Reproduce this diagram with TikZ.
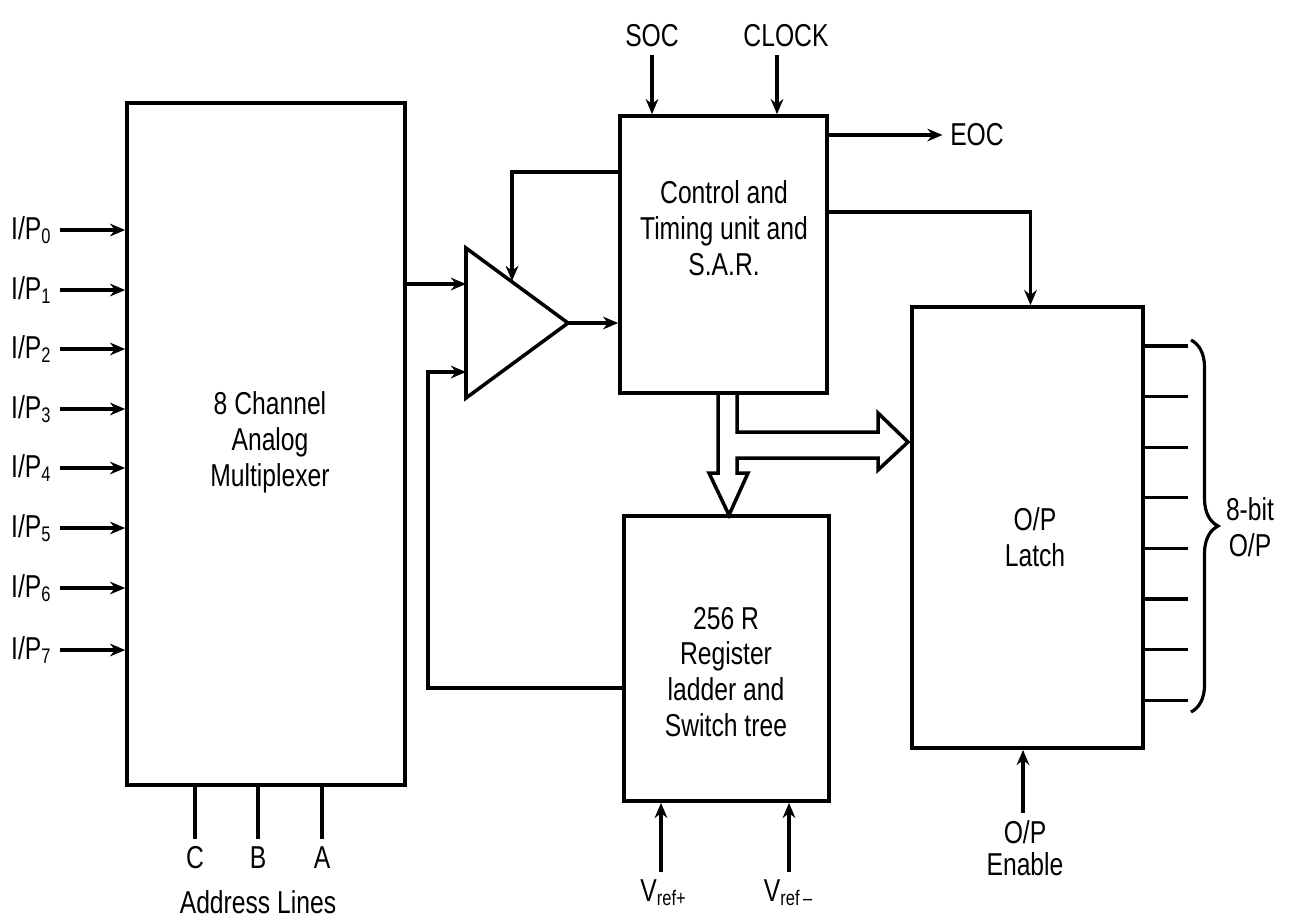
\documentclass[tikz,border=0pt]{standalone}
\usepackage{fontspec}
\setmainfont{Liberation Sans}[FakeStretch=0.78]
\usetikzlibrary{positioning, arrows.meta, decorations.pathreplacing}
\newcommand{\diagfont}{\fontsize{9}{10.2}\selectfont}

\begin{document}
\begin{tikzpicture}[
    x=0.01cm, y=-0.01cm,
    block/.style={draw, line width=1pt, inner sep=0pt},
    txt/.style={align=center, font=\diagfont, inner sep=2pt},
    sig/.style={-{Stealth[length=4.3pt, width=3.6pt]}, line width=0.9pt},
    wire/.style={line width=0.9pt},
    bus/.style={line width=1pt, line join=miter}
]
    \useasboundingbox (0,0) rectangle (1291,923);

    % Blocks
    \node[block, minimum width=2.78cm, minimum height=6.82cm] (mux) at (266,444) {};
    \node[block, minimum width=2.07cm, minimum height=2.77cm] (ctl) at (723.5,254.5) {};
    \node[block, minimum width=2.05cm, minimum height=2.85cm] (lad) at (726.5,658.5) {};
    \node[block, minimum width=2.31cm, minimum height=4.41cm] (latch) at (1027.5,527.5) {};

    \node[txt] (muxtxt) at (270,442) {8 Channel\\Analog\\Multiplexer};
    \node[txt] (ctltxt) at (724,228) {Control and\\Timing unit and\\S.A.R.};
    \node[txt] (ladtxt) at (726,672) {256 R\\Register\\ladder and\\Switch tree};
    \node[txt] (latchtxt) at (1035,537) {O/P\\Latch};

    % Comparator
    \coordinate (amptop) at (466,248);
    \coordinate (ampout) at (568,323);
    \coordinate (ampbot) at (466,398);
    \coordinate (ampin1) at (466,284);
    \coordinate (ampin2) at (466,372);
    \coordinate (ampfb) at (512,281);
    \draw[line width=1pt] (amptop) -- (ampout) -- (ampbot) -- cycle;

    % Analog inputs
    \foreach \i/\yy in {0/230,1/290,2/349,3/409,4/468,5/528,6/588,7/650} {
        \node[txt, anchor=east] (ip\i) at (60,\yy) {I/P\textsubscript{\i}};
        \draw[sig] (ip\i.east) -- (mux.west |- ip\i.east);
    }

    % Address lines
    \node[txt] (adc) at (195,858) {C};
    \node[txt] (adb) at (258,858) {B};
    \node[txt] (ada) at (322,858) {A};
    \foreach \a in {adc,adb,ada}
        \draw[wire] (\a.north) -- (\a.north |- mux.south);
    \node[txt] (addr) at (258,902) {Address Lines};

    % Comparator connections
    \draw[sig] (mux.east |- ampin1) -- (ampin1);
    \draw[sig] (ampout) -- (ctl.west |- ampout);
    \coordinate (fbtop) at (512,172);
    \draw[sig] (ctl.west |- fbtop) -| (ampfb);
    \coordinate (ladfb) at (428,688);
    \draw[sig] (lad.west |- ladfb) -- (ladfb) |- (ampin2);

    % Control inputs and outputs
    \node[txt] (soc) at (652,36) {SOC};
    \node[txt] (clk) at (786,36) {CLOCK};
    \node[txt] (eoc) at (977,135) {EOC};
    \draw[sig] (soc.south) -- (soc.south |- ctl.north);
    \draw[sig] ([xshift=-0.09cm]clk.south) -- ([xshift=-0.09cm]clk.south |- ctl.north);
    \draw[sig] (ctl.east |- eoc.west) -- (eoc.west);
    \coordinate (ctlout) at (827,212);
    \draw[sig] (ctl.east |- ctlout) -| ([xshift=0.03cm]latch.north);

    % Data bus (hollow arrows)
    \draw[bus] (718,393) -- (718,473) -- (709,473) -- (729,515) -- (748,473)
        -- (737,473) -- (737,458) -- (878,458) -- (878,470) -- (908,442)
        -- (878,413) -- (878,432) -- (737,432) -- (737,393);

    % Reference voltages
    \node[txt] (vp) at (664,893) {V\textsubscript{ref+}};
    \node[txt] (vm) at (789,893) {V\textsubscript{ref\,--}};
    \draw[sig] ([xshift=-0.03cm]vp.north) -- ([xshift=-0.03cm]vp.north |- lad.south);
    \draw[sig] (vm.north) -- (vm.north |- lad.south);

    % Latch outputs
    \foreach \i in {0,...,7} {
        \coordinate (o\i) at (1188,{346+50.6*\i});
        \draw[wire] (latch.east |- o\i) -- (o\i);
    }
    \draw[decorate, decoration={brace, amplitude=0.27cm}, line width=0.9pt] (1191,340) -- (1191,712);
    \node[txt] (obits) at (1250,527) {8-bit\\O/P};

    % Output enable
    \node[txt, font=\fontsize{9}{9}\selectfont] (oen) at (1025,848) {O/P\\Enable};
    \draw[sig] ([xshift=-0.02cm]oen.north) -- ([xshift=-0.02cm]oen.north |- latch.south);
\end{tikzpicture}
\end{document}
